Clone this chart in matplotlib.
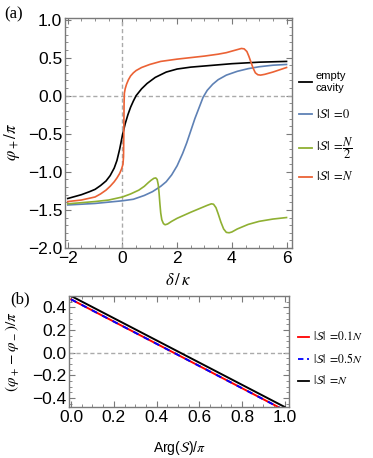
import matplotlib
matplotlib.use("Agg")
import matplotlib.pyplot as plt
from matplotlib.lines import Line2D
from matplotlib.ticker import MultipleLocator

plt.rcParams['mathtext.fontset'] = 'stix'
plt.rcParams['font.family'] = ['Liberation Sans', 'DejaVu Sans']

# panel (a): phase phi_+/pi vs detuning delta/kappa
d_empty = [-2, -1.5, -1.2, -1, -0.8, -0.6, -0.45, -0.3, -0.2, -0.1, 0, 0.1, 0.2, 0.3, 0.4, 0.5,
           0.7, 0.9, 1.2, 1.6, 2, 2.5, 3, 4, 5, 6]
v_empty = [-1.35, -1.30, -1.26, -1.23, -1.18, -1.12, -1.05, -0.95, -0.85, -0.70, -0.52, -0.37,
           -0.25, -0.15, -0.07, 0.0, 0.09, 0.16, 0.24, 0.31, 0.35, 0.375, 0.39, 0.42, 0.44, 0.45]

d_s0 = [-2, -1, 0, 0.4, 0.8, 1.1, 1.4, 1.6, 1.8, 2.0, 2.2, 2.35, 2.5, 2.65, 2.8, 2.95, 3.1, 3.3,
        3.5, 3.8, 4.2, 4.6, 5, 5.5, 6]
v_s0 = [-1.435, -1.415, -1.38, -1.36, -1.31, -1.26, -1.19, -1.13, -1.04, -0.92, -0.76, -0.62,
        -0.46, -0.30, -0.16, -0.02, 0.07, 0.15, 0.21, 0.27, 0.32, 0.355, 0.38, 0.40, 0.41]

d_half = [-2, -1, -0.5, 0, 0.3, 0.6, 0.8, 0.95, 1.05, 1.15, 1.22, 1.27, 1.31, 1.34, 1.37, 1.4,
          1.44, 1.5, 1.56, 1.65, 1.8, 2.0, 2.5, 2.9, 3.1, 3.25, 3.33, 3.42, 3.5, 3.6, 3.7, 3.8,
          3.9, 4.0, 4.2, 4.6, 5.0, 5.5, 6]
v_half = [-1.42, -1.39, -1.37, -1.33, -1.29, -1.24, -1.19, -1.14, -1.11, -1.085, -1.08, -1.10,
          -1.17, -1.28, -1.42, -1.54, -1.63, -1.68, -1.695, -1.685, -1.65, -1.61, -1.53, -1.47,
          -1.44, -1.42, -1.425, -1.47, -1.55, -1.66, -1.75, -1.795, -1.80, -1.79, -1.75, -1.69,
          -1.65, -1.62, -1.60]

d_full = [-2, -1.5, -1, -0.8, -0.6, -0.45, -0.3, -0.2, -0.1, -0.03, 0.02, 0.04, 0.05, 0.06, 0.07,
          0.1, 0.15, 0.22, 0.3, 0.4, 0.5, 0.7, 1.0, 1.4, 2, 2.5, 3, 3.5, 3.8, 4.0, 4.2, 4.35, 4.45,
          4.55, 4.62, 4.7, 4.78, 4.86, 4.95, 5.05, 5.2, 5.5, 6]
v_full = [-1.39, -1.37, -1.33, -1.29, -1.24, -1.19, -1.13, -1.08, -1.02, -0.96, -0.90, -0.80,
          -0.5, -0.1, 0.03, 0.09, 0.15, 0.21, 0.26, 0.30, 0.33, 0.37, 0.41, 0.45, 0.48, 0.50, 0.52,
          0.545, 0.565, 0.585, 0.605, 0.62, 0.615, 0.58, 0.52, 0.44, 0.36, 0.30, 0.275, 0.27,
          0.28, 0.31, 0.37]

# panel (b): phase difference vs Arg(S)/pi
arg_s = [0, 1]
diff_01 = [0.47, -0.51]
diff_05 = [0.47, -0.51]
diff_1 = [0.50, -0.48]

c_black = 'black'
c_blue = '#5E81B5'
c_green = '#8FB032'
c_orange = '#EB6235'
frame = '#7a7a7a'

W, H = 373, 458
fig = plt.figure(figsize=(W / 100, H / 100), dpi=100)


def px_axes(l, t, r, b):
    return fig.add_axes([l / W, 1 - b / H, (r - l) / W, (b - t) / H])


def style(ax):
    for s in ax.spines.values():
        s.set_color(frame)
        s.set_linewidth(1.0)
    ax.tick_params(which='both', direction='in', top=True, right=True, colors=frame,
                   labelcolor='black', labelsize=12.5)
    ax.tick_params(which='major', length=4, width=0.8, pad=2)
    ax.tick_params(which='minor', length=2, width=0.6)


ax = px_axes(65, 18, 292, 248)
ax.axvline(0, color='#aaaaaa', ls=(0, (3, 2)), lw=1)
ax.axhline(0, color='#aaaaaa', ls=(0, (3, 2)), lw=1)
ax.plot(d_s0, v_s0, color=c_blue, lw=1.2)
ax.plot(d_half, v_half, color=c_green, lw=1.2)
ax.plot(d_empty, v_empty, color=c_black, lw=1.2)
ax.plot(d_full, v_full, color=c_orange, lw=1.2)
ax.set_xlim(-2.1, 6.2)
ax.set_ylim(-2.0, 1.02)
ax.xaxis.set_major_locator(MultipleLocator(2))
ax.xaxis.set_minor_locator(MultipleLocator(0.5))
ax.yaxis.set_major_locator(MultipleLocator(0.5))
ax.yaxis.set_minor_locator(MultipleLocator(0.1))
style(ax)
ax.set_xlabel(r'$\delta\,/\,\kappa$', fontsize=12)
ax.set_ylabel(r'$\varphi_+/\pi$', fontsize=12)
ax.yaxis.set_label_coords(-0.19, 0.46)
ax.xaxis.set_label_coords(0.5, -0.105)

bx = px_axes(69, 296, 289, 407)
bx.axhline(0, color='#aaaaaa', ls=(0, (3, 2)), lw=1)
bx.plot(arg_s, diff_01, color='red', lw=1.4)
bx.plot(arg_s, diff_05, color='blue', lw=1.4, ls=(0, (3, 3)))
bx.plot(arg_s, diff_1, color='black', lw=1.4)
bx.set_xlim(-0.01, 1.02)
bx.set_ylim(-0.48, 0.5)
bx.xaxis.set_major_locator(MultipleLocator(0.2))
bx.xaxis.set_minor_locator(MultipleLocator(0.05))
bx.yaxis.set_major_locator(MultipleLocator(0.2))
bx.yaxis.set_minor_locator(MultipleLocator(0.05))
style(bx)
bx.set_xlabel(r'Arg($\mathcal{S}$)/$\pi$', fontsize=10)
bx.set_ylabel(r'$(\varphi_+ - \varphi_-)/\pi$', fontsize=11)
bx.xaxis.set_label_coords(0.5, -0.29)
bx.yaxis.set_label_coords(-0.22, 0.5)


def legend_row(x0, x1, y, color, text, ls='-', fs=9):
    fig.add_artist(Line2D([x0 / W, x1 / W], [1 - y / H, 1 - y / H], color=color, lw=1.3, ls=ls))
    fig.text((x1 + 4) / W, 1 - y / H, text, fontsize=fs, va='center', ha='left')


legend_row(299, 312, 82, c_black, 'empty\ncavity', fs=8)
legend_row(299, 312, 114, c_blue, r'$|\mathcal{S}|\;=\!0$')
legend_row(299, 312, 148, c_green, r'$|\mathcal{S}|\;=\!\dfrac{N}{2}$')
legend_row(299, 312, 177, c_orange, r'$|\mathcal{S}|\;=\!N$')

legend_row(298, 309, 337, 'red', r'$|\mathcal{S}|\;=\!0.1N$', fs=8.5)
legend_row(298, 309, 359, 'blue', r'$|\mathcal{S}|\;=\!0.5N$', ls=(0, (3, 2)), fs=8.5)
legend_row(298, 309, 381, 'black', r'$|\mathcal{S}|\;=\!N$', fs=8.5)

fig.text(4 / W, 1 - 14 / H, '(a)', fontsize=12, family='Liberation Serif', va='center')
fig.text(10 / W, 1 - 299 / H, '(b)', fontsize=12, family='Liberation Serif', va='center')

fig.savefig('out.png', dpi=100)
